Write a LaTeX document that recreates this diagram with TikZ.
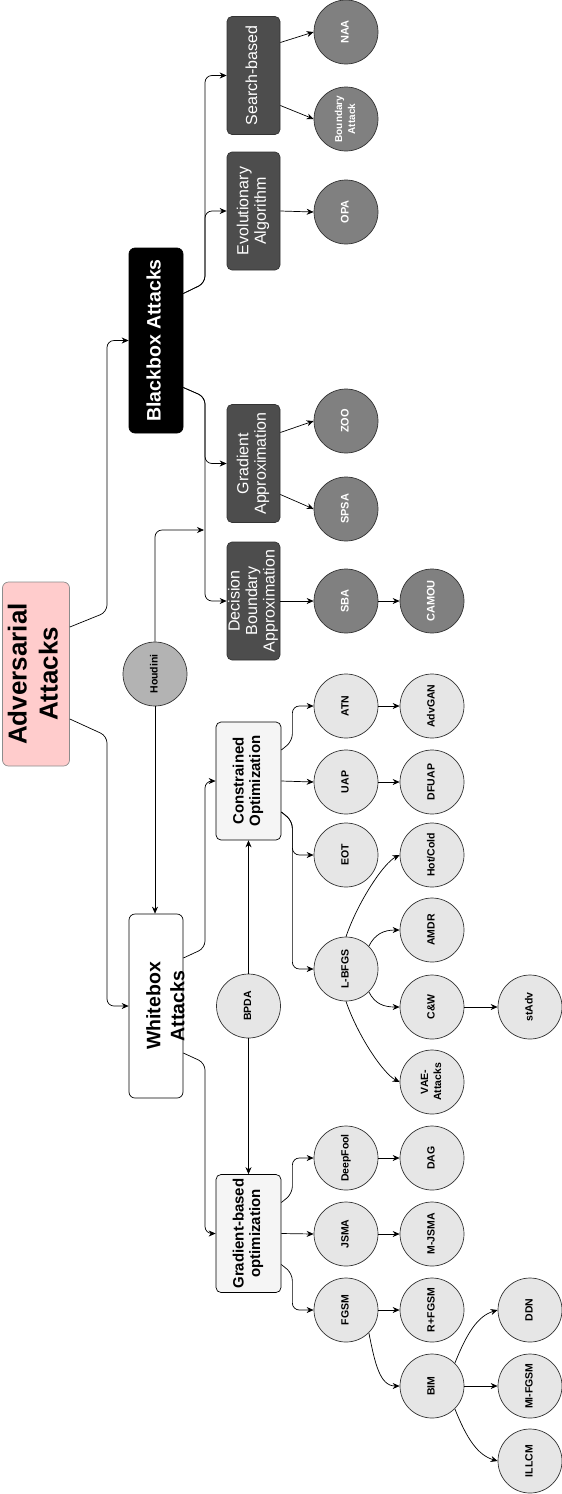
\documentclass[tikz,border=0pt]{standalone}
\usepackage{fontspec}
\setmainfont{Liberation Sans}
\usepackage{graphicx}
\usetikzlibrary{arrows.meta}
\definecolor{rootpink}{HTML}{FFCCCC}
\definecolor{darkbox}{HTML}{4D4D4D}
\definecolor{darkcirc}{HTML}{808080}
\definecolor{midcirc}{HTML}{B3B3B3}
\definecolor{lightcirc}{HTML}{E6E6E6}
\definecolor{lightbox}{HTML}{F5F5F5}
\newcommand{\rtext}[1]{\rotatebox{90}{\begin{tabular}{@{}c@{}}#1\end{tabular}}}

\begin{document}
\begin{tikzpicture}[x=1pt, y=-1pt,
  every node/.style={inner sep=0pt, line width=0.7pt},
  link/.style={line width=0.7pt, -{Stealth[length=7pt,width=6pt]}, rounded corners=7pt},
  rootbox/.style={draw=black!45, fill=rootpink, rounded corners=6pt, minimum width=67pt, minimum height=184pt, font=\fontsize{26}{31}\selectfont\bfseries},
  blackbox/.style={draw=black, fill=black, text=white, rounded corners=6pt, minimum width=54pt, minimum height=185pt, font=\fontsize{19.5}{23}\selectfont\bfseries},
  whitebox/.style={draw=black, fill=white, rounded corners=6pt, minimum width=54pt, minimum height=184pt},
  wbtext/.style={font=\fontsize{19.5}{24}\selectfont\bfseries},
  darkbox/.style={draw=black!80, fill=darkbox, text=white, rounded corners=5pt, minimum width=53pt, minimum height=118pt, font=\fontsize{16}{17.5}\selectfont},
  lightbox/.style={draw=black, fill=lightbox, rounded corners=5pt, minimum width=65pt, minimum height=118pt, font=\fontsize{15}{16.5}\selectfont\bfseries},
  darkcirc/.style={circle, draw=black!80, fill=darkcirc, text=white, minimum size=64pt, font=\fontsize{11}{13}\selectfont\bfseries},
  midcirc/.style={circle, draw=black!80, fill=midcirc, minimum size=64pt, font=\fontsize{10.5}{13}\selectfont\bfseries},
  lightcirc/.style={circle, draw=black!80, fill=lightcirc, minimum size=64pt, font=\fontsize{10.5}{13}\selectfont\bfseries}]
  \useasboundingbox (0,0) rectangle (562,1494);

  \node[rootbox] (adv) at (36,674) {\rtext{Adversarial\\Attacks}};
  \node[blackbox] (bb) at (156,340.5) {\rtext{Blackbox Attacks}};
  \node[whitebox] (wb) at (156,1006) {};
  \node[wbtext] (wbl) at (167.5,1006) {\rtext{Whitebox\\Attacks}};

  \node[darkbox] (sb) at (253.5,75.5) {\rtext{Search-based}};
  \node[darkbox] (ea) at (253.5,211) {\rtext{Evolutionary\\Algorithm}};
  \node[darkbox] (ga) at (253.5,463.5) {\rtext{Gradient\\Approximation}};
  \node[darkbox] (dba) at (253.5,601) {\rtext{Decision\\Boundary\\Approximation}};
  \node[lightbox] (co) at (248.5,781) {\rtext{Constrained\\Optimization}};
  \node[lightbox] (gb) at (248.5,1233.5) {\rtext{Gradient-based\\optimization}};

  \node[darkcirc] (naa) at (346,32) {\rtext{NAA}};
  \node[darkcirc, font=\fontsize{10}{13}\selectfont\bfseries] (ba) at (346,119) {\rtext{Boundary\\Attack}};
  \node[darkcirc] (opa) at (346,212) {\rtext{OPA}};
  \node[darkcirc] (zoo) at (346,421) {\rtext{ZOO}};
  \node[darkcirc] (spsa) at (346,509) {\rtext{SPSA}};
  \node[darkcirc] (sba) at (346,601) {\rtext{SBA}};
  \node[darkcirc] (camou) at (432,601) {\rtext{CAMOU}};

  \node[midcirc] (hd) at (155,674) {\rtext{Houdini}};
  \node[lightcirc] (bpda) at (248.5,1006) {\rtext{BPDA}};

  \node[lightcirc] (atn) at (346,706) {\rtext{ATN}};
  \node[lightcirc] (advgan) at (432,706) {\rtext{AdvGAN}};
  \node[lightcirc] (uap) at (346,782) {\rtext{UAP}};
  \node[lightcirc] (dfuap) at (432,782) {\rtext{DFUAP}};
  \node[lightcirc] (eot) at (346,855) {\rtext{EOT}};
  \node[lightcirc] (hc) at (432,855) {\rtext{Hot/Cold}};
  \node[lightcirc] (lbfgs) at (346,969) {\rtext{L-BFGS}};
  \node[lightcirc] (amdr) at (432,930) {\rtext{AMDR}};
  \node[lightcirc] (cw) at (432,1007) {\rtext{C\&W}};
  \node[lightcirc] (stadv) at (530,1007) {\rtext{stAdv}};
  \node[lightcirc] (vae) at (432,1082) {\rtext{VAE-\\Attacks}};
  \node[lightcirc] (df) at (346,1158) {\rtext{DeepFool}};
  \node[lightcirc] (dag) at (432,1158) {\rtext{DAG}};
  \node[lightcirc] (jsma) at (346,1234) {\rtext{JSMA}};
  \node[lightcirc] (mjsma) at (432,1234) {\rtext{M-JSMA}};
  \node[lightcirc] (fgsm) at (346,1310) {\rtext{FGSM}};
  \node[lightcirc] (rfgsm) at (432,1310) {\rtext{R+FGSM}};
  \node[lightcirc] (bim) at (432,1386) {\rtext{BIM}};
  \node[lightcirc] (ddn) at (530,1310) {\rtext{DDN}};
  \node[lightcirc] (mifgsm) at (530,1386) {\rtext{MI-FGSM}};
  \node[lightcirc] (illcm) at (530,1461) {\rtext{ILLCM}};

  \coordinate (hdend) at (204,530);

  \draw[link] ([yshift=47pt]adv.east) -- (107,612) |- (bb.west);
  \draw[link] ([yshift=-45pt]adv.east) -- (107,736) |- (wb.west);
  \draw[link] ([yshift=47pt]bb.east) -- (205,283) |- (sb.west);
  \draw[link] ([yshift=47pt]bb.east) -- (205,283) |- (ea.west);
  \draw[link] ([yshift=-47pt]bb.east) -- (205,397) |- (ga.west);
  \draw[link] ([yshift=-47pt]bb.east) -- (205,397) |- (dba.west);
  \draw[link] (hd.north) |- (hdend);
  \draw[link] (hd.south) -- (hd.south |- wb.north);
  \draw[link] ([yshift=48pt]wb.east) -- (205,948) |- (co.west);
  \draw[link] ([yshift=-47pt]wb.east) -- (205,1063) |- (gb.west);
  \draw[link] (bpda.north) -- (co.south);
  \draw[link] (bpda.south) -- (gb.north);

  \draw[link] ([yshift=33pt]sb.east) -- (naa.west);
  \draw[link] ([yshift=-30pt]sb.east) -- (ba.west);
  \draw[link] (ea.east) -- (opa.west);
  \draw[link] ([yshift=31pt]ga.east) -- (zoo.west);
  \draw[link] ([yshift=-31pt]ga.east) -- (spsa.west);
  \draw[link] (dba.east) -- (sba.west);
  \draw[link] (sba) -- (camou);

  \draw[link] ([yshift=31pt]co.east) -- ++(11,-9) |- (atn.west);
  \draw[link] (co.east) -- (uap.west);
  \draw[link] ([yshift=-31pt]co.east) -- ++(11,9) |- (eot.west);
  \draw[link] ([yshift=-31pt]co.east) -- ++(11,9) |- (lbfgs.west);
  \draw[link] (atn) -- (advgan);
  \draw[link] (uap) -- (dfuap);
  \draw[link] (lbfgs.north) .. controls +(12,-35) and +(-16,8) .. (hc.west);
  \draw[link] (lbfgs.north east) .. controls +(6,-12) and +(-16,0) .. (amdr.west);
  \draw[link] (lbfgs.south east) .. controls +(6,12) and +(-16,0) .. (cw.west);
  \draw[link] (lbfgs.south) .. controls +(12,35) and +(-16,-8) .. (vae.west);
  \draw[link] (cw) -- (stadv);

  \draw[link] ([yshift=31pt]gb.east) -- ++(11,-9) |- (df.west);
  \draw[link] (gb.east) -- (jsma.west);
  \draw[link] ([yshift=-31pt]gb.east) -- ++(11,9) |- (fgsm.west);
  \draw[link] (df) -- (dag);
  \draw[link] (jsma) -- (mjsma);
  \draw[link] (fgsm) -- (rfgsm);
  \draw[link] (fgsm.south east) .. controls +(6,30) and +(-20,0) .. (bim.west);
  \draw[link] (bim.north east) .. controls +(12,-30) and +(-20,6) .. (ddn.west);
  \draw[link] (bim) -- (mifgsm);
  \draw[link] (bim.south east) .. controls +(12,30) and +(-20,-6) .. (illcm.west);
\end{tikzpicture}
\end{document}
